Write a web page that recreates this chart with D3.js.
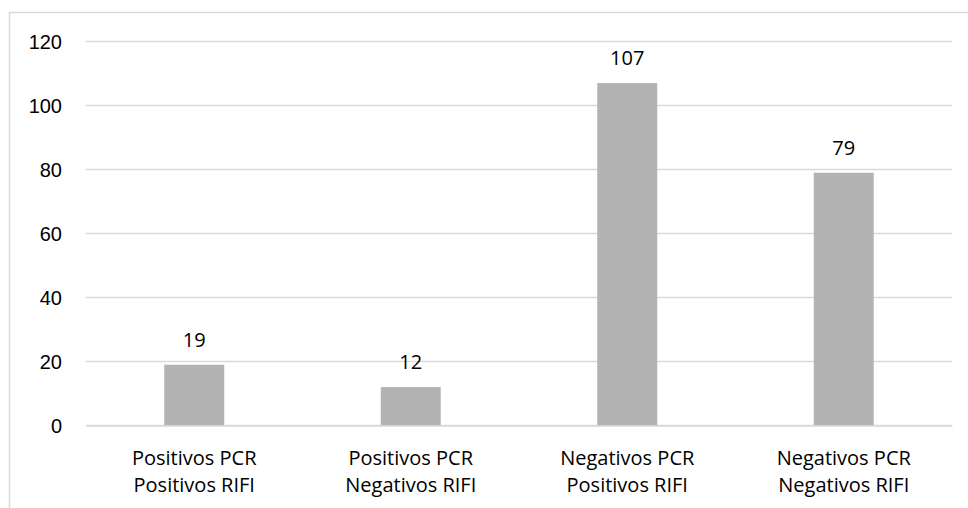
<!DOCTYPE html>
<html><head><meta charset="utf-8">
<script src="https://cdn.jsdelivr.net/npm/d3@7"></script>
<style>body{margin:0;background:#fff;} svg{display:block;font-family:"Open Sans",sans-serif;}</style>
</head><body>
<svg id="c" width="968" height="508"></svg>
<script>
const categories = [["Positivos PCR","Positivos RIFI"],["Positivos PCR","Negativos RIFI"],["Negativos PCR","Positivos RIFI"],["Negativos PCR","Negativos RIFI"]];
const values = [19, 12, 107, 79];
const yTicks = [0, 20, 40, 60, 80, 100, 120];

const FS = 20;
const svg = d3.select("#c");
const m = {left: 86, right: 952, top: 41.5, bottom: 425.5};
svg.append("rect").attr("x",9.5).attr("y",12.5).attr("width",980).attr("height",520)
  .attr("fill","none").attr("stroke","#d9d9d9").attr("stroke-width",1.5);

const keys = categories.map((d,i)=>i);
const x = d3.scaleBand().domain(keys).range([m.left, m.right]).paddingInner(0.723).paddingOuter(0.3615);
const y = d3.scaleLinear().domain([0,120]).range([m.bottom, m.top]);

const grid = svg.append("g");
grid.selectAll("line").data(yTicks).join("line")
  .attr("x1", m.left).attr("x2", m.right)
  .attr("y1", d=>y(d)).attr("y2", d=>y(d))
  .attr("stroke","#d9d9d9").attr("stroke-width",1.3);

const yAxis = d3.axisLeft(y).tickValues(yTicks).tickSize(0).tickPadding(0);
const ya = svg.append("g").attr("transform",`translate(62,0)`).call(yAxis);
ya.select(".domain").remove();
ya.selectAll("text").attr("font-size",FS).attr("fill","#000").attr("dy","0.36em").style("font-family","inherit");

svg.append("g").selectAll("rect").data(values).join("rect")
  .attr("x",(d,i)=>x(i)).attr("width",x.bandwidth())
  .attr("y",d=>y(d)).attr("height",d=>y(0)-y(d))
  .attr("fill","#b3b3b3");

svg.append("g").selectAll("text").data(values).join("text")
  .attr("x",(d,i)=>x(i)+x.bandwidth()/2).attr("y",d=>y(d)-18)
  .attr("text-anchor","middle").attr("font-size",FS).attr("fill","#000")
  .text(d=>d);

const xa = svg.append("g").attr("transform",`translate(0,${m.bottom})`)
  .call(d3.axisBottom(x).tickSize(0).tickFormat(()=>""));
xa.select(".domain").attr("stroke","#d9d9d9").attr("stroke-width",1.3);
const lab = svg.append("g");
categories.forEach((c,i)=>{
  const t = lab.append("text").attr("x",x(i)+x.bandwidth()/2).attr("text-anchor","middle")
    .attr("font-size",FS).attr("fill","#000");
  c.forEach((line,j)=>t.append("tspan").attr("x",x(i)+x.bandwidth()/2).attr("y",465+j*27).text(line));
});
</script>
</body></html>
